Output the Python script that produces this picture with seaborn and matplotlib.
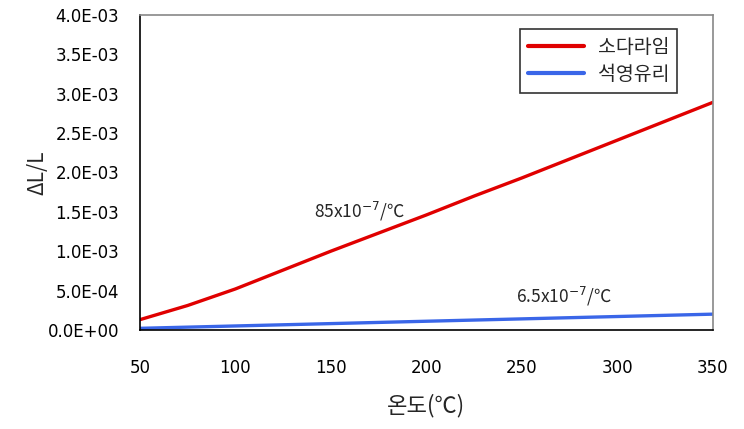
import matplotlib
matplotlib.use("Agg")
import matplotlib.pyplot as plt
import seaborn as sns
import pandas as pd

temps = [50, 75, 100, 125, 150, 175, 200, 225, 250, 275, 300, 325, 350]
soda = [0.13e-3, 0.31e-3, 0.52e-3, 0.76e-3, 1.00e-3, 1.23e-3, 1.46e-3,
        1.70e-3, 1.93e-3, 2.17e-3, 2.41e-3, 2.65e-3, 2.89e-3]
quartz = [0.20e-4, 0.35e-4, 0.50e-4, 0.65e-4, 0.80e-4, 0.95e-4, 1.10e-4,
          1.25e-4, 1.40e-4, 1.55e-4, 1.70e-4, 1.85e-4, 2.00e-4]
series_names = ["소다라임", "석영유리"]
xticks = [50, 100, 150, 200, 250, 300, 350]
yticks = [0, 0.5e-3, 1.0e-3, 1.5e-3, 2.0e-3, 2.5e-3, 3.0e-3, 3.5e-3, 4.0e-3]
ytick_labels = ["0.0E+00", "5.0E-04", "1.0E-03", "1.5E-03", "2.0E-03",
                "2.5E-03", "3.0E-03", "3.5E-03", "4.0E-03"]

df = pd.DataFrame({
    "T": temps + temps,
    "v": soda + quartz,
    "s": [series_names[0]] * len(temps) + [series_names[1]] * len(temps),
})

sns.set_style("white")
plt.rcParams['font.family'] = ['Noto Sans CJK KR', 'DejaVu Sans']

fig = plt.figure(figsize=(7.44, 4.29), dpi=100)
ax = fig.add_axes([0.188, 0.231, 0.770, 0.734])
sns.lineplot(data=df, x="T", y="v", hue="s", palette=["#e00000", "#3a66e8"],
             linewidth=2.4, ax=ax, legend=True)

ax.set_xlim(50, 350)
ax.set_ylim(0, 4.0e-3)
ax.set_xticks(xticks)
ax.set_xticklabels([str(t) for t in xticks])
ax.set_yticks(yticks)
ax.set_yticklabels(ytick_labels)
for lbl in ax.get_xticklabels() + ax.get_yticklabels():
    lbl.set_fontfamily(['DejaVu Sans'])
    lbl.set_fontsize(12)
ax.tick_params(direction="in", length=5, width=1, colors="black")
ax.tick_params(axis='y', pad=15)
ax.tick_params(axis='x', pad=21)
for sp in ["left", "bottom"]:
    ax.spines[sp].set_color("black")
    ax.spines[sp].set_linewidth(1.2)
for sp in ["top", "right"]:
    ax.spines[sp].set_color("#888888")
    ax.spines[sp].set_linewidth(1.2)

ax.set_xlabel("온도(℃)", fontsize=16, labelpad=12)
ax.set_ylabel("ΔL/L", fontsize=15)
ax.yaxis.set_label_coords(-0.16, 0.5)

ax.text(165, 1.5e-3, r"85x10$^{-7}$/℃", fontsize=12.5, ha="center", va="center")
ax.text(272, 0.42e-3, r"6.5x10$^{-7}$/℃", fontsize=12.5, ha="center", va="center")

leg = ax.legend(loc="upper right", bbox_to_anchor=(0.938, 0.955), fontsize=14,
                frameon=True, fancybox=False, edgecolor="black",
                handlelength=2.9, borderpad=0.4, labelspacing=0.3,
                handletextpad=0.7, borderaxespad=0)
leg.get_frame().set_linewidth(1.2)
for h in leg.get_lines():
    h.set_linewidth(3)

fig.savefig("out.png", dpi=100)
